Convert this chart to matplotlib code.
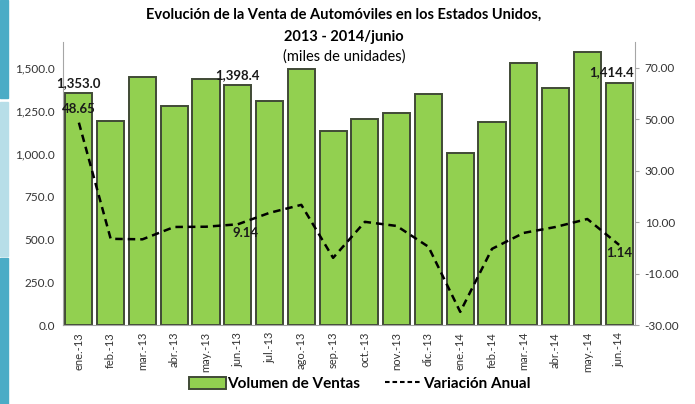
import numpy as np
import matplotlib.pyplot as plt
from matplotlib.patches import Rectangle
from matplotlib.lines import Line2D

plt.rcParams['font.family'] = ['Lato', 'DejaVu Sans']

meses = ['ene.-13', 'feb.-13', 'mar.-13', 'abr.-13', 'may.-13', 'jun.-13', 'jul.-13',
         'ago.-13', 'sep.-13', 'oct.-13', 'nov.-13', 'dic.-13', 'ene.-14', 'feb.-14',
         'mar.-14', 'abr.-14', 'may.-14', 'jun.-14']
ventas = [1353.0, 1191, 1448, 1279, 1436, 1398.4, 1308, 1495, 1133, 1203, 1238,
          1348, 1004, 1185, 1530, 1384, 1594, 1414.4]
variacion = [48.65, 3.5, 3.3, 8.1, 8.2, 9.14, 13.6, 16.7, -3.9, 10.1, 8.5, 0.4,
             -24.9, -0.4, 5.8, 8.1, 11.2, 1.14]

fig = plt.figure(figsize=(6.95, 4.04), dpi=100)

# franjas decorativas a la izquierda
fig.patches.append(Rectangle((0, 1 - 98/404), 8/695, 98/404, transform=fig.transFigure, color='#4BACC6'))
fig.patches.append(Rectangle((0, 1 - 256/404), 8/695, 154/404, transform=fig.transFigure, color='#B7DEE8'))
fig.patches.append(Rectangle((0, 0), 8/695, 146/404, transform=fig.transFigure, color='#4BACC6'))

ax = fig.add_axes([63/695, 79/404, 572/695, 283/404])
x = np.arange(len(meses))
barras = ax.bar(x, ventas, width=0.85, color='#92D050', edgecolor='#404a36', linewidth=1.4,
                label='Volumen de Ventas')
ax.set_xlim(-0.5, len(meses) - 0.5)
ax.set_ylim(0, 1652)
ax.set_yticks(np.arange(0, 1501, 250))
ax.set_yticklabels(['{:,.1f}'.format(v) for v in np.arange(0, 1501, 250)], fontsize=8.5, color='#333333')
ax.set_xticks(x)
ax.set_xticklabels(meses, rotation=90, fontsize=8, color='#333333')
ax.tick_params(axis='x', length=0, pad=5)
ax.tick_params(axis='y', length=0, pad=6)
for s in ['top', 'right', 'bottom']:
    ax.spines[s].set_visible(False)
ax.spines['left'].set_color('#a6a6a6')

ax2 = ax.twinx()
ax2.plot(x, variacion, color='black', linestyle='--', linewidth=1.8, dashes=(3, 2))
ax2.set_ylim(-30, 80)
ax2.set_yticks(np.arange(-30, 71, 20))
ax2.set_yticklabels(['{:.2f}'.format(v) for v in np.arange(-30, 71, 20)], fontsize=8.5, color='#333333')
ax2.tick_params(axis='y', length=3, color='#a6a6a6', pad=4)
for s in ['top', 'left']:
    ax2.spines[s].set_visible(False)
ax2.spines['right'].set_color('#a6a6a6')
ax2.spines['bottom'].set_color('#a6a6a6')

# etiquetas de datos
for i in [0, 5]:
    ax.text(x[i], ventas[i] + 25, '{:,.1f}'.format(ventas[i]), ha='center', va='bottom',
            fontsize=9.5, fontweight='bold', color='#1a1a1a')
ax.text(x[17] - 0.25, ventas[17] + 25, '{:,.1f}'.format(ventas[17]), ha='center', va='bottom',
        fontsize=9.5, fontweight='bold', color='#1a1a1a')
ax2.text(x[0], variacion[0] + 3, '{:.2f}'.format(variacion[0]), ha='center', va='bottom',
         fontsize=9.5, fontweight='bold', color='#1a1a1a')
ax2.text(x[5] + 0.25, variacion[5] - 1, '{:.2f}'.format(variacion[5]), ha='center', va='top',
         fontsize=9.5, fontweight='bold', color='#1a1a1a')
ax2.text(x[17], variacion[17] - 1, '{:.2f}'.format(variacion[17]), ha='center', va='top',
         fontsize=9.5, fontweight='bold', color='#1a1a1a')

fig.text(344/695, 1 - 15/404, 'Evolución de la Venta de Automóviles en los Estados Unidos,',
         ha='center', va='center', fontsize=10.5, fontweight='bold')
fig.text(344/695, 1 - 37/404, '2013 - 2014/junio', ha='center', va='center',
         fontsize=10.5, fontweight='bold')
fig.text(344/695, 1 - 57/404, '(miles de unidades)', ha='center', va='center', fontsize=10.5)

linea_ley = Line2D([], [], color='black', linewidth=1.5, dashes=(2.2, 1.4))
fig.legend([barras, linea_ley], ['Volumen de Ventas', 'Variación Anual'], loc='center',
           bbox_to_anchor=(360/695, 1 - 384/404), ncol=2, frameon=False,
           prop={'size': 11, 'weight': 'bold'}, handlelength=2.4, handleheight=0.8,
           handletextpad=0.1, columnspacing=1.6)

fig.savefig('out.png', dpi=100)
